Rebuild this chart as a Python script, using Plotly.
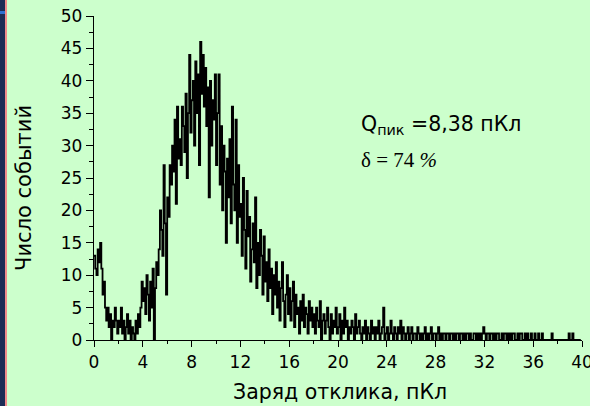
import plotly.graph_objects as go

# Histogram of response charge, bin width 0.1 pC (left edges)
bin_width = 0.1
counts = [
    13, 11, 10, 14, 12, 15, 11, 7, 9, 5,      # 0
    3, 5, 2, 4, 0, 3, 2, 5, 3, 1,             # 1
    3, 2, 5, 1, 3, 0, 2, 4, 1, 3,             # 2
    0, 2, 1, 0, 3, 1, 4, 2, 5, 9,             # 3
    6, 8, 4, 10, 7, 3, 9, 5, 11, 0,           # 4
    8, 12, 10, 14, 20, 17, 13, 27, 18, 7,     # 5
    22, 19, 27, 24, 30, 26, 34, 21, 36, 28,   # 6
    31, 27, 36, 33, 29, 38, 25, 35, 44, 32,   # 7
    37, 40, 30, 43, 35, 41, 27, 46, 38, 44,   # 8
    36, 42, 33, 39, 22, 40, 30, 37, 34, 41,   # 9
    27, 35, 41, 24, 33, 20, 30, 26, 15, 28,   # 10
    22, 31, 18, 36, 24, 20, 34, 15, 27, 19,   # 11
    21, 13, 25, 17, 11, 23, 16, 19, 9, 14,    # 12
    18, 12, 22, 8, 15, 10, 17, 13, 7, 16,     # 13
    9, 12, 6, 14, 8, 11, 4, 10, 7, 12,        # 14
    5, 9, 3, 8, 12, 6, 2, 7, 10, 4,           # 15
    8, 3, 6, 9, 2, 7, 4, 5, 1, 6,             # 16
    3, 7, 2, 5, 4, 1, 6, 3, 5, 2,             # 17
    4, 1, 5, 3, 2, 6, 0, 3, 4, 1,             # 18
    3, 5, 2, 0, 4, 1, 3, 2, 5, 1,             # 19
    2, 4, 0, 3, 1, 5, 2, 3, 0, 2,             # 20
    1, 3, 2, 0, 4, 1, 2, 3, 1, 0,             # 21
    2, 1, 3, 0, 2, 1, 0, 3, 1, 2,             # 22
    0, 2, 1, 3, 0, 1, 2, 5, 0, 1,             # 23
    2, 0, 1, 3, 1, 0, 2, 1, 0, 2,             # 24
    1, 3, 0, 2, 1, 0, 1, 2, 0, 1,             # 25
    2, 0, 1, 1, 0, 2, 1, 0, 1, 0,             # 26
    1, 2, 0, 1, 0, 1, 2, 0, 1, 1,             # 27
    0, 1, 2, 0, 1, 0, 1, 1, 0, 1,             # 28
    1, 0, 1, 1, 0, 1, 0, 1, 1, 0,             # 29
    1, 1, 0, 1, 0, 1, 1, 0, 1, 0,             # 30
    0, 1, 1, 0, 1, 0, 1, 0, 1, 2,             # 31
    1, 0, 1, 1, 0, 1, 1, 0, 1, 0,             # 32
    1, 1, 0, 0, 1, 0, 1, 1, 0, 1,             # 33
    0, 1, 0, 1, 1, 0, 0, 1, 0, 1,             # 34
    1, 0, 0, 1, 0, 1, 0, 0, 1, 0,             # 35
    0, 1, 0, 0, 1, 0, 0, 1, 0, 0,             # 36
    0, 0, 0, 0, 0, 1, 0, 0, 0, 0,             # 37
    0, 0, 0, 0, 0, 0, 0, 0, 0, 1,             # 38
    0, 0, 1, 0, 0, 0, 0, 0, 0, 0,             # 39
]
bin_edges = [round(i * bin_width, 2) for i in range(len(counts))]

x_ticks = [0, 4, 8, 12, 16, 20, 24, 28, 32, 36, 40]
y_ticks = [0, 5, 10, 15, 20, 25, 30, 35, 40, 45, 50]

x_title = "Заряд отклика, пКл"
y_title = "Число событий"
peak_text = "Q<sub>пик</sub> =8,38 пКл"
delta_text = "δ = 74 <i>%</i>"

BG = "#ccffcc"
FONT = "DejaVu Sans"

fig = go.Figure()
fig.add_trace(go.Scatter(
    x=bin_edges, y=counts, mode="lines", line_shape="hv",
    line=dict(color="black", width=1.8), showlegend=False,
))

axis_common = dict(
    showgrid=False, zeroline=False, showline=True, linecolor="black",
    linewidth=1.3, ticks="outside", tickcolor="black", tickwidth=1.3,
    tickfont=dict(family=FONT, size=17, color="black"),
    ticklabeloverflow="allow", automargin=False,
)
fig.update_xaxes(
    range=[0, 40], tickvals=x_ticks, ticklen=6,
    minor=dict(dtick=2, tick0=0, ticks="outside", ticklen=3, tickcolor="black", tickwidth=1.2),
    **axis_common,
)
fig.update_yaxes(
    range=[0, 50], tickvals=y_ticks, ticklen=7,
    minor=dict(dtick=2.5, tick0=0, ticks="outside", ticklen=4, tickcolor="black", tickwidth=1.2),
    **axis_common,
)

fig.add_annotation(xref="paper", yref="paper", x=0.505, y=-0.162, yanchor="middle",
                   text=x_title, showarrow=False,
                   font=dict(family=FONT, size=20.5, color="black"))
fig.add_annotation(xref="paper", yref="paper", x=-0.145, y=0.47, xanchor="center",
                   yanchor="middle", textangle=-90, text=y_title, showarrow=False,
                   font=dict(family=FONT, size=21, color="black"))
fig.add_annotation(xref="paper", yref="paper", x=0.543, y=0.665, xanchor="left",
                   yanchor="middle", text=peak_text, showarrow=False,
                   font=dict(family=FONT, size=20.5, color="black"))
fig.add_annotation(xref="paper", yref="paper", x=0.543, y=0.555, xanchor="left",
                   yanchor="middle", text=delta_text, showarrow=False,
                   font=dict(family="Liberation Serif", size=21, color="black"))

# left decorative strips (navy + pink)
fig.add_shape(type="rect", xref="paper", yref="paper", x0=-94/488, x1=-89/488,
              y0=-66/324, y1=1 + 16/324, fillcolor="#1c2b55", line_width=0, layer="below")
fig.add_shape(type="rect", xref="paper", yref="paper", x0=-94/488, x1=-89/488,
              y0=1 + 2/324, y1=1 + 5/324, fillcolor="#2f6fd0", line_width=0, layer="below")
fig.add_shape(type="rect", xref="paper", yref="paper", x0=-89/488, x1=-87/488,
              y0=-66/324, y1=1 + 16/324, fillcolor="#f08a8a", line_width=0, layer="below")

fig.update_layout(
    width=590, height=406,
    margin=dict(l=94, r=8, t=16, b=66),
    paper_bgcolor=BG, plot_bgcolor=BG,
    font=dict(family=FONT, color="black"),
)

fig.write_html("out.html")
